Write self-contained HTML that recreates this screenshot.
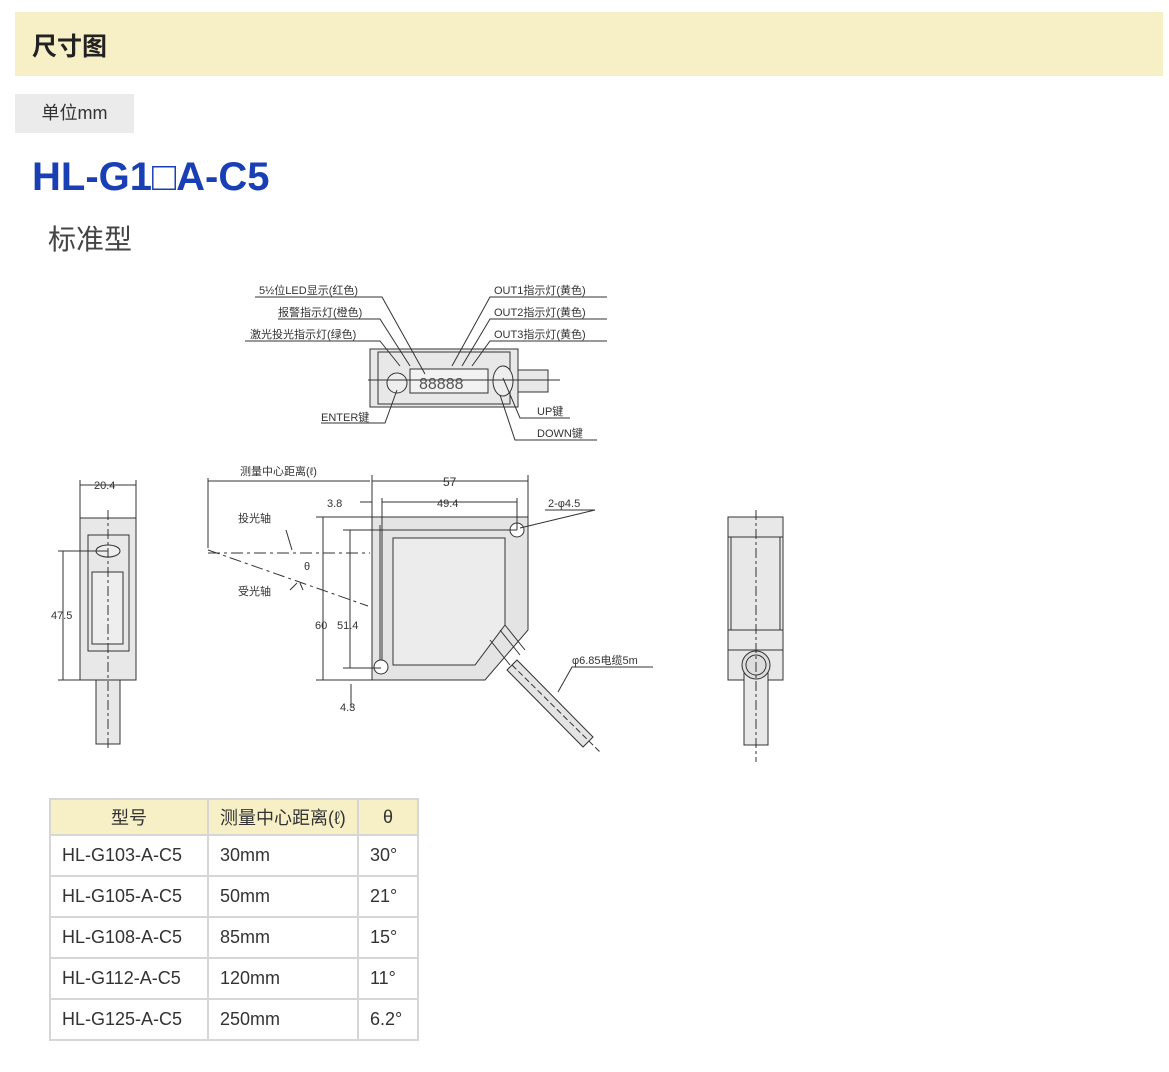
<!DOCTYPE html>
<html><head><meta charset="utf-8"><style>
body{margin:0;background:#fff;width:1169px;height:1072px;position:relative;overflow:hidden;font-family:"Liberation Sans","Noto Sans CJK SC",sans-serif;}
.hd{position:absolute;left:15px;top:12px;width:1148px;height:64px;background:#f7f0c6;}
.hd span{position:absolute;left:17px;top:15px;font-size:25px;font-weight:bold;color:#222;}
.unit{position:absolute;left:15px;top:94px;width:119px;height:39px;background:#ebebeb;font-size:18px;color:#333;line-height:39px;text-align:center;}
.title{position:absolute;left:32px;top:155px;font-size:40px;font-weight:bold;color:#1a3fb5;}
.sub{position:absolute;left:48px;top:218px;font-size:28px;color:#444;}
table{position:absolute;left:49px;top:798px;border-collapse:collapse;font-size:18px;color:#333;}
td{border:2px solid #d6d6d6;height:39px;padding:0 11px;}
tr:first-child td{background:#f7f0c6;text-align:center;height:34px;}
svg{position:absolute;left:0;top:0}
</style></head><body>
<div class="hd"><span>尺寸图</span></div>
<div class="unit">单位mm</div>
<div class="title">HL-G1□A-C5</div>
<div class="sub">标准型</div>
<svg width="1169" height="1072" font-family="Liberation Sans,Noto Sans CJK SC,sans-serif" font-size="11" fill="#333">
<g stroke="#333" stroke-width="1" fill="none">
<rect x="370" y="349" width="148" height="58" fill="#e8e8e8"/>
<rect x="378" y="352" width="132" height="52"/>
<rect x="518" y="370" width="30" height="22" fill="#e8e8e8"/>
<rect x="410" y="369" width="78" height="24" fill="#f2f2f2"/>
<circle cx="397" cy="383" r="10" fill="#eee"/>
<ellipse cx="503" cy="381" rx="10" ry="15" fill="#eee"/>
<line x1="368" y1="380" x2="560" y2="380"/>
<path d="M255 297H382L425 374M278 319H380L410 366M245 341H380L400 366"/>
<path d="M607 297H490L452 366M607 319H490L462 366M607 341H490L472 366"/>
<path d="M321 423H385L397 390M570 418H520L503 378M597 440H515L500 395"/>
<path d="M507 670L517 660L593 737L583 747Z" fill="#e4e4e4"/>
<path d="M512 665L600 752" stroke-dasharray="6 3"/>
<path d="M372 517H528V630L485 680H372Z" fill="#e4e4e4"/>
<path d="M393 538H505V625L475 665H393Z" fill="#ececec"/>
<path d="M380 525V672M500 630L520 655M505 625L525 650M490 640L510 665"/>
<circle cx="517" cy="530" r="7" fill="#fff"/><circle cx="381" cy="667" r="7" fill="#fff"/>
<path d="M208 481H370M372 481H528M208 478V548M372 475V517M528 475V517M360 502H372M382 502H517M382 498V660M517 498V530"/>
<path d="M208 553H370" stroke-dasharray="12 4 3 4"/>
<path d="M208 550L368 606" stroke-dasharray="12 4 3 4"/>
<path d="M545 510H595L520 528M323 517V680M350 530V668M316 517H372M316 680H372M343 530H517M343 668H381M351 708V684"/>
<path d="M653 667H572L558 692M286 530L292 550M290 590L297 583M303 590L300 583"/>
<rect x="80" y="518" width="56" height="162" fill="#e8e8e8"/>
<rect x="88" y="535" width="41" height="116"/>
<rect x="92" y="572" width="31" height="72" fill="#eee"/>
<ellipse cx="108" cy="551" rx="12" ry="6" fill="#eee"/>
<rect x="96" y="680" width="24" height="64" fill="#e8e8e8"/>
<path d="M108 510V750" stroke-dasharray="10 3 3 3"/>
<path d="M80 485H136M80 480V518M136 480V518M63 551V680M58 551H108M58 680H80"/>
<rect x="728" y="517" width="55" height="163" fill="#e8e8e8"/>
<path d="M728 537H783M731 537V630M780 537V630M728 630H783M728 650H783"/>
<rect x="744" y="665" width="24" height="80" fill="#e8e8e8"/>
<circle cx="756" cy="665" r="14" fill="#ddd"/><circle cx="756" cy="665" r="10"/>
<path d="M756 510V762" stroke-dasharray="10 3 3 3"/>
</g>
<g font-size="11">
<text x="259" y="294">5½位LED显示(红色)</text>
<text x="278" y="316">报警指示灯(橙色)</text>
<text x="250" y="338">激光投光指示灯(绿色)</text>
<text x="494" y="294">OUT1指示灯(黄色)</text>
<text x="494" y="316">OUT2指示灯(黄色)</text>
<text x="494" y="338">OUT3指示灯(黄色)</text>
<text x="419" y="389" font-size="16" fill="#555">88888</text>
<text x="321" y="421">ENTER键</text>
<text x="537" y="415">UP键</text>
<text x="537" y="437">DOWN键</text>
<text x="240" y="475">测量中心距离(ℓ)</text>
<text x="443" y="486" font-size="12">57</text>
<text x="327" y="507">3.8</text>
<text x="437" y="507">49.4</text>
<text x="548" y="507">2-φ4.5</text>
<text x="238" y="522">投光轴</text>
<text x="304" y="570">θ</text>
<text x="238" y="595">受光轴</text>
<text x="315" y="629">60</text>
<text x="337" y="629">51.4</text>
<text x="340" y="711">4.3</text>
<text x="572" y="664">φ6.85电缆5m</text>
<text x="94" y="489">20.4</text>
<text x="51" y="619">47.5</text>
</g>
</svg>
<table>
<tr><td style="width:134px">型号</td><td style="width:126px;text-align:left">测量中心距离(ℓ)</td><td style="width:36px">θ</td></tr>
<tr><td>HL-G103-A-C5</td><td>30mm</td><td>30°</td></tr>
<tr><td>HL-G105-A-C5</td><td>50mm</td><td>21°</td></tr>
<tr><td>HL-G108-A-C5</td><td>85mm</td><td>15°</td></tr>
<tr><td>HL-G112-A-C5</td><td>120mm</td><td>11°</td></tr>
<tr><td>HL-G125-A-C5</td><td>250mm</td><td>6.2°</td></tr>
</table>
</body></html>
